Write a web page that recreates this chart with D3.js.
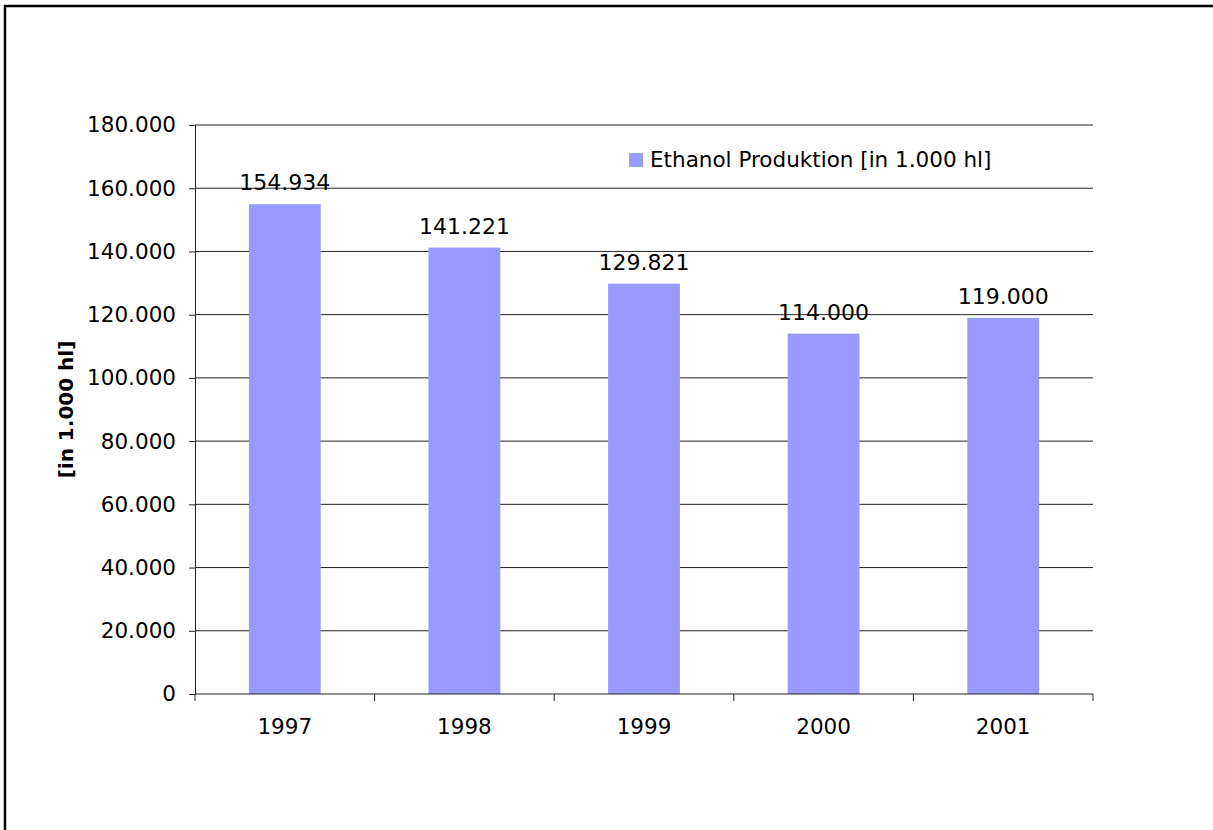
<!DOCTYPE html>
<html>
<head>
<meta charset="utf-8">
<script src="https://cdn.jsdelivr.net/npm/d3@7"></script>
<style>
  body { margin: 0; background: #fff; overflow: hidden; }
  svg { display: block; font-family: "DejaVu Sans", Verdana, sans-serif; }
</style>
</head>
<body>
<svg id="chart" width="1213" height="830"></svg>
<script>
// data
const years = ["1997", "1998", "1999", "2000", "2001"];
const production = [154934, 141221, 129821, 114000, 119000];
const yTicks = [0, 20000, 40000, 60000, 80000, 100000, 120000, 140000, 160000, 180000];
const seriesName = "Ethanol Produktion [in 1.000 hl]";
const yTitle = "[in 1.000 hl]";

const svg = d3.select("#chart");
const margin = {left: 195, right: 120, top: 125, bottom: 136};
const width = 1213, height = 830;

const fmt = d3.formatLocale({decimal: ",", thousands: ".", grouping: [3]}).format(",d");

// frame: only top and left edges are visible in the original crop
svg.append("path")
    .attr("d", `M5,${height}V6H${width}`)
    .attr("fill", "none")
    .attr("stroke", "#000")
    .attr("stroke-width", 2.5);

const x = d3.scaleBand()
    .domain(years)
    .range([margin.left, width - margin.right])
    .paddingInner(0.6)
    .paddingOuter(0.3);

const y = d3.scaleLinear()
    .domain([0, 180000])
    .range([height - margin.bottom, margin.top]);

// gridlines
svg.append("g")
    .selectAll("line")
    .data(yTicks.filter(d => d > 0))
    .join("line")
    .attr("x1", margin.left)
    .attr("x2", width - margin.right)
    .attr("y1", d => y(d))
    .attr("y2", d => y(d))
    .attr("stroke", "#222")
    .attr("stroke-width", 1);

// bars
svg.append("g")
    .selectAll("rect")
    .data(production)
    .join("rect")
    .attr("x", (d, i) => x(years[i]))
    .attr("width", x.bandwidth())
    .attr("y", d => y(d))
    .attr("height", d => y(0) - y(d))
    .attr("fill", "#9999ff");

// value labels
svg.append("g")
    .selectAll("text")
    .data(production)
    .join("text")
    .attr("x", (d, i) => x(years[i]) + x.bandwidth() / 2)
    .attr("y", d => y(d) - 14)
    .attr("text-anchor", "middle")
    .attr("font-size", 22)
    .attr("fill", "#000")
    .text(d => fmt(d));

// y axis
const yAxis = svg.append("g")
    .attr("transform", `translate(${margin.left},0)`)
    .call(d3.axisLeft(y).tickValues(yTicks).tickSize(6).tickPadding(13).tickFormat(fmt));
yAxis.selectAll("text").attr("font-size", 21.5).attr("fill", "#000")
    .attr("font-family", "DejaVu Sans, Verdana, sans-serif");
yAxis.selectAll("line, path").attr("stroke", "#222");

// x axis: ticks sit between categories
const step = x.step();
const xAxis = svg.append("g").attr("transform", `translate(0,${y(0)})`);
xAxis.append("line")
    .attr("x1", margin.left).attr("x2", width - margin.right)
    .attr("stroke", "#222");
xAxis.selectAll(".tick")
    .data(d3.range(years.length + 1))
    .join("line")
    .attr("class", "tick")
    .attr("x1", i => margin.left + i * step)
    .attr("x2", i => margin.left + i * step)
    .attr("y1", 0).attr("y2", 7)
    .attr("stroke", "#222");
xAxis.selectAll("text")
    .data(years)
    .join("text")
    .attr("x", d => x(d) + x.bandwidth() / 2)
    .attr("y", 40)
    .attr("text-anchor", "middle")
    .attr("font-size", 21.5)
    .attr("fill", "#000")
    .text(d => d);

// y title
svg.append("text")
    .attr("transform", `translate(73,${(y(0) + y(180000)) / 2}) rotate(-90)`)
    .attr("text-anchor", "middle")
    .attr("font-size", 20)
    .attr("font-weight", "bold")
    .text(yTitle);

// legend
const legend = svg.append("g").attr("transform", "translate(629,153)");
legend.append("rect").attr("width", 14).attr("height", 14).attr("fill", "#9999ff");
legend.append("text")
    .attr("x", 21).attr("y", 14)
    .attr("font-size", 21.5)
    .text(seriesName);
</script>
</body>
</html>
